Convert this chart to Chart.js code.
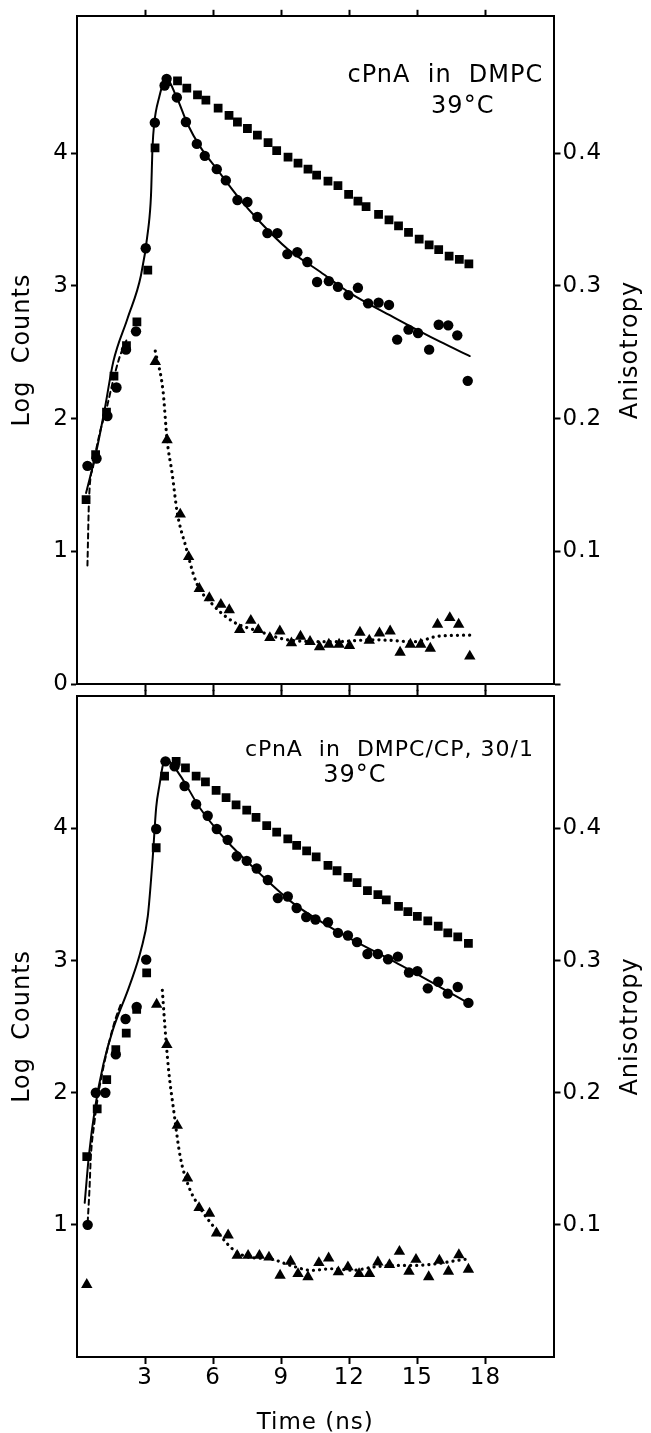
<!DOCTYPE html>
<html>
<head>
<meta charset="utf-8">
<title>cPnA decay and anisotropy</title>
<script src="https://cdn.jsdelivr.net/npm/chart.js@4.4.1/dist/chart.umd.min.js"></script>
<style>
  html, body { margin: 0; padding: 0; background: #fff; overflow: hidden; }
  #wrap { position: relative; width: 651px; height: 1433px; }
  canvas { position: absolute; left: 0; }
  #topChart { top: 0; }
  #bottomChart { top: 680px; }
</style>
</head>
<body>
<div id="wrap">
  <canvas id="topChart" width="651" height="700"></canvas>
  <canvas id="bottomChart" width="651" height="760"></canvas>
</div>
<script>
// Values. Time in ns, counts as log10, anisotropy as r.
const timeTicks = [3, 6, 9, 12, 15, 18];
const logTicksTop = [0, 1, 2, 3, 4];
const logTicksBottom = [1, 2, 3, 4];
const anisoTicks = [0, 0.1, 0.2, 0.3, 0.4];

// --- top panel: cPnA in DMPC ---
const dmpcSquareT = [0.40, 0.82, 1.30, 1.63, 2.18, 2.64, 3.12, 3.44, 3.95, 4.43, 4.84, 5.31, 5.68, 6.22, 6.70, 7.07, 7.51, 7.95, 8.42, 8.80, 9.30, 9.74, 10.18, 10.56, 11.06, 11.50, 11.97, 12.38, 12.74, 13.29, 13.75, 14.17, 14.61, 15.08, 15.52, 15.94, 16.40, 16.85, 17.27];
const dmpcSquareLog = [1.39, 1.73, 2.05, 2.32, 2.55, 2.73, 3.12, 4.04, 4.54, 4.545, 4.49, 4.44, 4.40, 4.34, 4.285, 4.235, 4.186, 4.136, 4.08, 4.02, 3.97, 3.925, 3.88, 3.835, 3.79, 3.756, 3.689, 3.639, 3.597, 3.54, 3.498, 3.453, 3.403, 3.353, 3.309, 3.274, 3.224, 3.20, 3.167];

const dmpcCircleT = [0.46, 0.86, 1.34, 1.74, 2.16, 2.60, 3.03, 3.43, 3.86, 3.95, 4.40, 4.80, 5.28, 5.63, 6.16, 6.56, 7.07, 7.51, 7.95, 8.39, 8.83, 9.27, 9.71, 10.15, 10.58, 11.10, 11.50, 11.96, 12.38, 12.83, 13.29, 13.75, 14.11, 14.61, 15.03, 15.52, 15.94, 16.36, 16.76, 17.22];
const dmpcCircleLog = [1.645, 1.70, 2.02, 2.235, 2.52, 2.658, 3.284, 4.23, 4.51, 4.56, 4.42, 4.235, 4.07, 3.98, 3.88, 3.795, 3.647, 3.632, 3.52, 3.398, 3.398, 3.24, 3.254, 3.18, 3.03, 3.036, 2.993, 2.931, 2.986, 2.869, 2.874, 2.857, 2.596, 2.671, 2.645, 2.52, 2.708, 2.703, 2.628, 2.285];

const dmpcTriangleT = [3.45, 3.97, 4.55, 4.92, 5.39, 5.83, 6.34, 6.71, 7.17, 7.66, 7.99, 8.50, 8.94, 9.45, 9.85, 10.27, 10.69, 11.10, 11.55, 12.01, 12.47, 12.88, 13.33, 13.80, 14.24, 14.69, 15.15, 15.57, 15.89, 16.43, 16.82, 17.31];
const dmpcTriangleR = [0.243, 0.184, 0.128, 0.096, 0.072, 0.065, 0.060, 0.056, 0.041, 0.048, 0.041, 0.035, 0.040, 0.031, 0.036, 0.032, 0.028, 0.030, 0.030, 0.029, 0.039, 0.033, 0.0385, 0.040, 0.024, 0.030, 0.030, 0.027, 0.045, 0.050, 0.045, 0.021];

const dmpcFitT = [0.40, 0.86, 1.23, 1.60, 2.23, 2.82, 3.14, 3.26, 3.33, 3.40, 3.62, 3.92, 4.42, 4.87, 5.46, 6.19, 7.07, 8.09, 9.27, 10.73, 12.0, 14.0, 16.0, 17.31];
const dmpcFitLog = [1.44, 1.76, 2.08, 2.43, 2.757, 3.08, 3.43, 3.677, 4.05, 4.22, 4.42, 4.56, 4.41, 4.22, 4.04, 3.875, 3.677, 3.478, 3.28, 3.105, 2.95, 2.76, 2.58, 2.472];

const dmpcRiseT = [0.46, 0.53, 0.71, 1.00, 1.32, 1.59, 1.87, 2.20];
const dmpcRiseLog = [0.894, 1.39, 1.64, 1.89, 2.09, 2.285, 2.46, 2.60];

const dmpcAnisoFitT = [3.45, 3.79, 3.97, 4.19, 4.42, 4.79, 5.25, 5.98, 6.89, 7.99, 9.45, 11.3, 13.1, 14.94, 15.85, 17.31];
const dmpcAnisoFitR = [0.251, 0.221, 0.184, 0.159, 0.129, 0.104, 0.077, 0.060, 0.047, 0.040, 0.033, 0.032, 0.0335, 0.032, 0.036, 0.037];

// --- bottom panel: cPnA in DMPC/CP 30/1 ---
const cpSquareT = [0.43, 0.89, 1.31, 1.71, 2.17, 2.63, 3.07, 3.49, 3.86, 4.37, 4.78, 5.25, 5.66, 6.13, 6.57, 7.01, 7.48, 7.89, 8.36, 8.80, 9.29, 9.68, 10.12, 10.54, 11.06, 11.46, 11.94, 12.34, 12.80, 13.26, 13.63, 14.17, 14.58, 15.00, 15.46, 15.92, 16.34, 16.78, 17.25];
const cpSquareLog = [1.516, 1.877, 2.10, 2.326, 2.451, 2.63, 2.907, 3.854, 4.396, 4.508, 4.458, 4.396, 4.353, 4.288, 4.233, 4.179, 4.138, 4.084, 4.022, 3.972, 3.922, 3.872, 3.83, 3.785, 3.72, 3.68, 3.63, 3.59, 3.53, 3.50, 3.46, 3.41, 3.37, 3.335, 3.30, 3.26, 3.21, 3.18, 3.13];

const cpCircleT = [0.47, 0.83, 1.25, 1.71, 2.14, 2.63, 3.05, 3.49, 3.90, 4.30, 4.74, 5.25, 5.76, 6.16, 6.64, 7.04, 7.48, 7.92, 8.41, 8.85, 9.29, 9.68, 10.10, 10.51, 11.06, 11.50, 11.94, 12.34, 12.80, 13.26, 13.71, 14.14, 14.63, 15.00, 15.46, 15.92, 16.34, 16.78, 17.25];
const cpCircleLog = [1.00, 2.00, 2.00, 2.29, 2.558, 2.65, 3.007, 3.996, 4.508, 4.47, 4.321, 4.183, 4.096, 3.996, 3.914, 3.79, 3.755, 3.697, 3.61, 3.473, 3.485, 3.398, 3.33, 3.311, 3.29, 3.21, 3.19, 3.14, 3.05, 3.05, 3.01, 3.03, 2.91, 2.92, 2.79, 2.84, 2.75, 2.80, 2.68];

const cpTriangleT = [0.43, 3.51, 3.96, 4.42, 4.87, 5.38, 5.84, 6.15, 6.66, 7.06, 7.54, 8.04, 8.46, 8.95, 9.41, 9.74, 10.18, 10.66, 11.09, 11.52, 11.94, 12.43, 12.89, 13.26, 13.77, 14.21, 14.63, 14.94, 15.50, 15.97, 16.37, 16.83, 17.25];
const cpTriangleR = [0.0548, 0.2668, 0.2363, 0.1752, 0.1354, 0.1129, 0.1087, 0.0937, 0.0922, 0.0768, 0.0768, 0.0768, 0.0755, 0.0618, 0.0723, 0.063, 0.0606, 0.0713, 0.0748, 0.0643, 0.0681, 0.063, 0.063, 0.0718, 0.0698, 0.0798, 0.0648, 0.0738, 0.0606, 0.0731, 0.0648, 0.0773, 0.0663];

const cpFitT = [0.34, 0.52, 0.80, 1.16, 1.57, 2.32, 2.83, 3.12, 3.34, 3.49, 3.64, 3.79, 3.93, 4.52, 5.40, 6.58, 8.05, 9.52, 10.70, 12.0, 14.0, 16.0, 17.29];
const cpFitLog = [1.167, 1.516, 1.89, 2.214, 2.47, 2.812, 3.087, 3.336, 3.785, 4.159, 4.333, 4.482, 4.52, 4.408, 4.159, 3.909, 3.66, 3.435, 3.30, 3.17, 2.99, 2.80, 2.675];

const cpRiseT = [0.47, 0.55, 0.61, 0.76, 0.94, 1.16, 1.44, 1.70, 1.95];
const cpRiseLog = [1.017, 1.27, 1.516, 1.765, 1.99, 2.19, 2.40, 2.56, 2.68];

const cpAnisoFitT = [3.76, 3.84, 3.92, 4.05, 4.25, 4.55, 4.92, 5.38, 6.11, 6.85, 7.58, 8.49, 9.41, 10.33, 11.24, 12.16, 13.07, 13.99, 14.90, 15.82, 16.73, 17.25];
const cpAnisoFitR = [0.2775, 0.258, 0.240, 0.215, 0.188, 0.1516, 0.1292, 0.114, 0.0967, 0.0818, 0.0755, 0.0743, 0.0693, 0.0656, 0.0668, 0.0656, 0.0681, 0.0693, 0.0693, 0.0705, 0.073, 0.0743];

const FONT = "'DejaVu Sans', 'Liberation Sans', sans-serif";
Chart.defaults.font.family = FONT;
Chart.defaults.color = "#000";

function pts(ts, vs) {
  return ts.map((t, i) => ({ x: t, y: vs[i] }));
}

function markers(data, style, radius, axis) {
  return {
    data: data,
    yAxisID: axis,
    pointStyle: style,
    pointRadius: radius,
    pointBackgroundColor: "#000",
    pointBorderWidth: 0,
    showLine: false,
  };
}

function curve(data, axis, dash, width) {
  return {
    data: data,
    yAxisID: axis,
    showLine: true,
    borderColor: "#000",
    borderWidth: width,
    borderDash: dash,
    borderCapStyle: "round",
    pointRadius: 0,
    cubicInterpolationMode: "monotone",
    fill: false,
  };
}

// draws the right-hand axis title (reads bottom to top) and the panel captions
const figureText = {
  id: "figureText",
  beforeDraw(chart) {
    chart.ctx.letterSpacing = "1px";
  },
  afterDraw(chart, args, opts) {
    const { ctx, chartArea, scales } = chart;
    ctx.save();
    ctx.fillStyle = "#000";
    ctx.textBaseline = "middle";
    ctx.textAlign = "center";
    ctx.font = "24px " + FONT;
    ctx.translate(scales.yA.left + 77, (chartArea.top + chartArea.bottom) / 2);
    ctx.rotate(-Math.PI / 2);
    ctx.fillText("Anisotropy", 0, 0);
    ctx.restore();

    ctx.save();
    ctx.fillStyle = "#000";
    ctx.textBaseline = "middle";
    opts.labels.forEach((l) => {
      ctx.font = l.size + "px " + FONT;
      ctx.textAlign = l.align;
      ctx.fillText(l.text, scales.x.getPixelForValue(l.t), scales.y.getPixelForValue(l.v));
    });
    ctx.restore();
  },
};

function ticksAt(values) {
  return (scale) => {
    scale.ticks = values.map((value) => ({ value }));
  };
}

function panelScales(p) {
  const edge = { display: true, color: "#000", width: 2 };
  const tickGrid = (len) => ({ drawOnChartArea: false, tickLength: len, tickWidth: 2, tickColor: "#000" });
  return {
    x: {
      type: "linear",
      position: "bottom",
      min: 0,
      max: 21,
      border: edge,
      grid: tickGrid(7),
      ticks: { display: p.showTime, font: { size: 23 }, padding: 0, maxRotation: 0, autoSkip: false },
      title: { display: p.showTime, text: "Time (ns)", font: { size: 23 }, padding: { top: 0, bottom: 3 } },
      afterBuildTicks: ticksAt(timeTicks),
      afterFit: (s) => { s.height = p.bottomH; },
    },
    xTop: {
      type: "linear",
      position: "top",
      min: 0,
      max: 21,
      border: edge,
      grid: tickGrid(6),
      ticks: { display: false },
      afterBuildTicks: ticksAt(timeTicks),
      afterFit: (s) => { s.height = p.topH; },
    },
    y: {
      type: "linear",
      position: "left",
      min: 0,
      max: p.logMax,
      border: edge,
      grid: tickGrid(6),
      ticks: { font: { size: 23 }, padding: 2, autoSkip: false },
      title: { display: true, text: "Log  Counts", font: { size: 24 }, padding: { top: 8, bottom: 0 } },
      afterBuildTicks: ticksAt(p.logTicks),
      afterFit: (s) => { s.width = 77; },
    },
    yA: {
      type: "linear",
      position: "right",
      min: 0,
      max: p.logMax / 10,
      border: edge,
      grid: tickGrid(7),
      ticks: {
        font: { size: 23 },
        padding: 2,
        autoSkip: false,
        callback: (v) => (v === 0 ? "" : v.toFixed(1)),
      },
      afterBuildTicks: ticksAt(p.anisoTicks),
      afterFit: (s) => { s.width = 97.5; },
    },
  };
}

function makePanel(canvasId, sets, p) {
  return new Chart(document.getElementById(canvasId), {
    type: "scatter",
    data: {
      datasets: [
        markers(sets.circles, "circle", 5.2, "y"),
        markers(sets.squares, "rect", 6.2, "y"),
        markers(sets.triangles, "triangle", 6.6, "yA"),
        curve(sets.fit, "y", [], 2),
        curve(sets.rise, "y", [5, 4], 2),
        curve(sets.anisoFit, "yA", [0.1, 6], 3.2),
      ],
    },
    options: {
      responsive: false,
      animation: false,
      layout: { padding: 0 },
      plugins: {
        legend: { display: false },
        tooltip: { enabled: false },
        figureText: { labels: p.labels },
      },
      scales: panelScales(p),
    },
    plugins: [figureText],
  });
}

makePanel(
  "topChart",
  {
    circles: pts(dmpcCircleT, dmpcCircleLog),
    squares: pts(dmpcSquareT, dmpcSquareLog),
    triangles: pts(dmpcTriangleT, dmpcTriangleR),
    fit: pts(dmpcFitT, dmpcFitLog),
    rise: pts(dmpcRiseT, dmpcRiseLog),
    anisoFit: pts(dmpcAnisoFitT, dmpcAnisoFitR),
  },
  {
    showTime: false,
    topH: 11,
    bottomH: 13,
    logMax: 5.035,
    logTicks: logTicksTop,
    anisoTicks: anisoTicks,
    labels: [
      { text: "cPnA  in  DMPC", t: 20.55, v: 4.58, align: "right", size: 24 },
      { text: "39°C", t: 17.0, v: 4.35, align: "center", size: 24 },
    ],
  }
);

makePanel(
  "bottomChart",
  {
    circles: pts(cpCircleT, cpCircleLog),
    squares: pts(cpSquareT, cpSquareLog),
    triangles: pts(cpTriangleT, cpTriangleR),
    fit: pts(cpFitT, cpFitLog),
    rise: pts(cpRiseT, cpRiseLog),
    anisoFit: pts(cpAnisoFitT, cpAnisoFitR),
  },
  {
    showTime: true,
    topH: 7,
    bottomH: 83,
    logMax: 5.004,
    logTicks: logTicksBottom,
    anisoTicks: anisoTicks.slice(1),
    labels: [
      { text: "cPnA  in  DMPC/CP, 30/1", t: 7.4, v: 4.59, align: "left", size: 22 },
      { text: "39°C", t: 12.25, v: 4.40, align: "center", size: 24 },
    ],
  }
);
</script>
</body>
</html>
